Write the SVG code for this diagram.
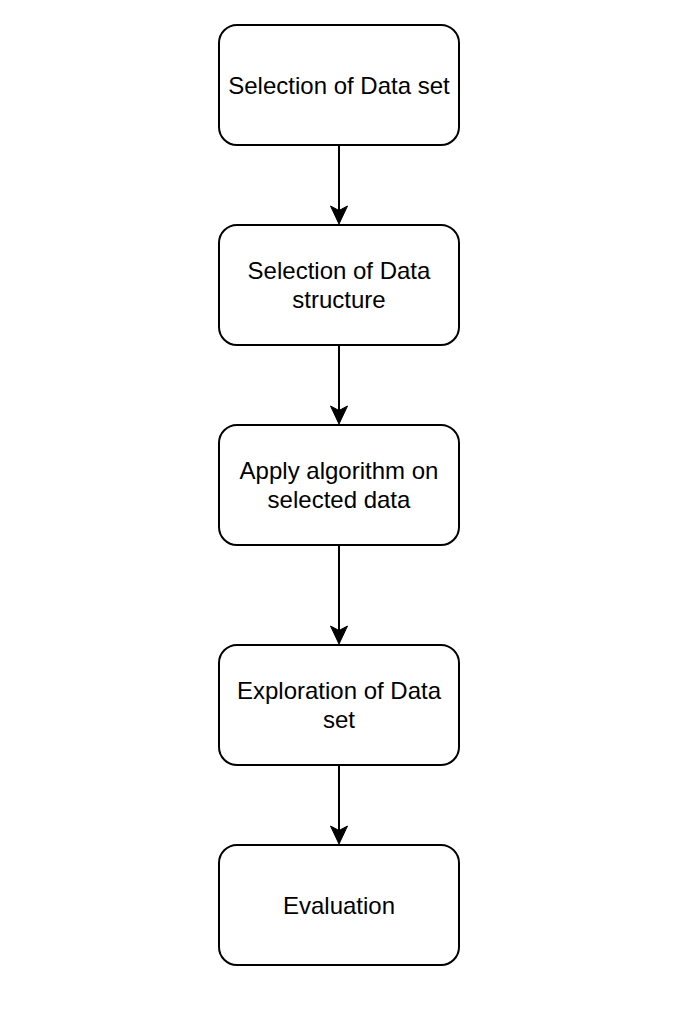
<svg xmlns="http://www.w3.org/2000/svg" width="682" height="1010" viewBox="0 0 682 1010">
<defs>
<style>
.box{fill:#ffffff;stroke:#000000;stroke-width:2}
.lbl{font-family:"Liberation Sans",Arial,Helvetica,sans-serif;font-size:24px;fill:#000000;text-anchor:middle}
.edge{stroke:#000000;stroke-width:2;fill:none}
.head{fill:#000000;stroke:#000000;stroke-width:1}
</style>
</defs>
<rect width="682" height="1010" fill="#ffffff"/>
<g id="connectors">
<line class="edge" x1="339" y1="145" x2="339" y2="212"/>
<path class="head" d="M339,224 L330.5,206 L339,210.5 L347.5,206 Z"/>
<line class="edge" x1="339" y1="345" x2="339" y2="412"/>
<path class="head" d="M339,424 L330.5,406 L339,410.5 L347.5,406 Z"/>
<line class="edge" x1="339" y1="545" x2="339" y2="632"/>
<path class="head" d="M339,644 L330.5,626 L339,630.5 L347.5,626 Z"/>
<line class="edge" x1="339" y1="765" x2="339" y2="832"/>
<path class="head" d="M339,844 L330.5,826 L339,830.5 L347.5,826 Z"/>
</g>
<g id="n1">
<rect class="box" x="219" y="25" width="240" height="120" rx="18" ry="18"/>
<text class="lbl" x="339" y="93.5">Selection of Data set</text>
</g>
<g id="n2">
<rect class="box" x="219" y="225" width="240" height="120" rx="18" ry="18"/>
<text class="lbl" x="339" y="279">Selection of Data</text>
<text class="lbl" x="339" y="308">structure</text>
</g>
<g id="n3">
<rect class="box" x="219" y="425" width="240" height="120" rx="18" ry="18"/>
<text class="lbl" x="339" y="479">Apply algorithm on</text>
<text class="lbl" x="339" y="508">selected data</text>
</g>
<g id="n4">
<rect class="box" x="219" y="645" width="240" height="120" rx="18" ry="18"/>
<text class="lbl" x="339" y="699">Exploration of Data</text>
<text class="lbl" x="339" y="728">set</text>
</g>
<g id="n5">
<rect class="box" x="219" y="845" width="240" height="120" rx="18" ry="18"/>
<text class="lbl" x="339" y="913.5">Evaluation</text>
</g>
</svg>
